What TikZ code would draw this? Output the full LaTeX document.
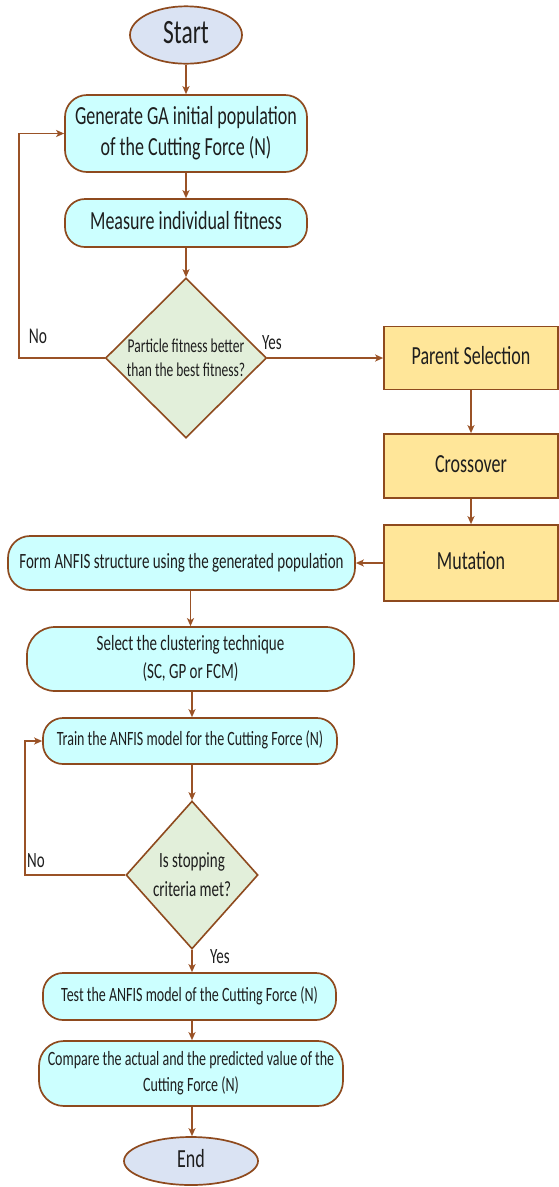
\documentclass[tikz,border=0pt]{standalone}
\usepackage{fontspec}
\setmainfont{Carlito}
\usepackage{graphicx}
\usetikzlibrary{shapes.geometric,arrows.meta}
\definecolor{brn}{HTML}{8E4A1E}
\definecolor{arrc}{HTML}{9A5226}
\definecolor{ellf}{HTML}{DAE3F3}
\definecolor{cyanf}{HTML}{CCFFFF}
\definecolor{grnf}{HTML}{E2EFDA}
\definecolor{yelf}{HTML}{FFE699}
\definecolor{txt}{HTML}{1E1E1E}
\newcommand{\tx}[3]{\scalebox{1}[1.45]{\fontsize{#1pt}{#2pt}\selectfont\begin{tabular}{@{}c@{}}#3\end{tabular}}}
\begin{document}
\begin{tikzpicture}[x=1pt,y=-1pt,
  every node/.style={text=txt},
  term/.style={ellipse,draw=brn,line width=1.7pt,fill=ellf,inner sep=0pt},
  proc/.style={rectangle,draw=brn,line width=1.7pt,fill=cyanf,inner sep=0pt,rounded corners=#1},
  ybox/.style={rectangle,draw=brn,line width=1.7pt,fill=yelf,inner sep=0pt,minimum width=174pt},
  dec/.style={diamond,draw=brn,line width=1.6pt,fill=grnf,inner sep=0pt},
  arr/.style={draw=arrc,line width=1.5pt,-{Stealth[length=8pt,width=7pt,inset=2pt]}},
  lbl/.style={inner sep=0pt}
]
\useasboundingbox (0,0) rectangle (559,1187);

\node[term,minimum width=112pt,minimum height=54pt] (start) at (186,35) {\tx{23.5}{28}{Start}};
\node[proc=22pt,minimum width=242pt,minimum height=77pt] (gen) at (186,133.5) {\tx{18}{21.5}{Generate GA initial population\\of the Cutting Force (N)}};
\node[proc=20pt,minimum width=242pt,minimum height=48pt] (meas) at (186,223) {\tx{18}{22}{Measure individual fitness}};
\node[dec,minimum width=161pt,minimum height=160pt] (d1) at (186,358) {};
\node[lbl] (d1t) at (186,360) {\tx{13.5}{16.5}{Particle fitness better\\than the best fitness?}};

\node[ybox,minimum height=63pt] (par) at (471,358) {\tx{18}{22}{Parent Selection}};
\node[ybox,minimum height=64pt] (cross) at (471,466) {\tx{18}{22}{Crossover}};
\node[ybox,minimum height=76pt] (mut) at (471,563) {\tx{18}{22}{Mutation}};

\node[proc=22pt,minimum width=347pt,minimum height=54pt] (form) at (181.5,563) {\tx{15}{18}{Form ANFIS structure using the generated population}};
\node[proc=28pt,minimum width=327pt,minimum height=64pt] (sel) at (190.5,659) {\tx{15}{19.5}{Select the clustering technique\\(SC, GP or FCM)}};
\node[proc=20pt,minimum width=294pt,minimum height=46pt] (train) at (190,741) {\tx{14}{17}{Train the ANFIS model for the Cutting Force (N)}};
\node[dec,minimum width=132pt,minimum height=148pt] (d2) at (192,875) {};
\node[lbl] (d2t) at (192,876) {\tx{15}{20.5}{Is stopping\\criteria met?}};
\node[proc=20pt,minimum width=293pt,minimum height=47pt] (test) at (189.5,996.5) {\tx{14}{17}{Test the ANFIS model of the Cutting Force (N)}};
\node[proc=25pt,minimum width=304pt,minimum height=65pt] (comp) at (191,1073.5) {\tx{14}{17.5}{Compare the actual and the predicted value of the\\Cutting Force (N)}};
\node[term,minimum width=134pt,minimum height=48pt] (end) at (191,1161) {\tx{18}{22}{End}};

\coordinate (l1) at (19,358);
\coordinate (l2) at (25,875);

\draw[arr] (start) -- (gen);
\draw[arr] (gen) -- (meas);
\draw[arr] (meas) -- (d1.north);
\draw[arr] (d1.west) -- (l1) |- (gen.west);
\draw[arr] (d1.east) -- (par.west);
\draw[arr] (par) -- (cross);
\draw[arr] (cross) -- (mut);
\draw[arr] (mut.west) -- (form.east);
\draw[arr] (sel.north |- form.south) -- (sel.north);
\draw[arr] (sel.south -| d2.north) -- (train.north -| d2.north);
\draw[arr] (train.south -| d2.north) -- (d2.north);
\draw[arr] (d2.west) -- (l2) |- (train.west);
\draw[arr] (d2.south) -- (test.north -| d2.south);
\draw[arr] (test.south -| d2.south) -- (comp.north -| d2.south);
\draw[arr] (comp.south -| d2.south) -- (end.north -| d2.south);

\node[lbl] (no1) at (38,338) {\tx{15.5}{18}{No}};
\node[lbl] (yes1) at (272,344) {\tx{15}{18}{Yes}};
\node[lbl] (no2) at (36,862) {\tx{15}{18}{No}};
\node[lbl] (yes2) at (220,958) {\tx{15}{18}{Yes}};
\end{tikzpicture}
\end{document}
